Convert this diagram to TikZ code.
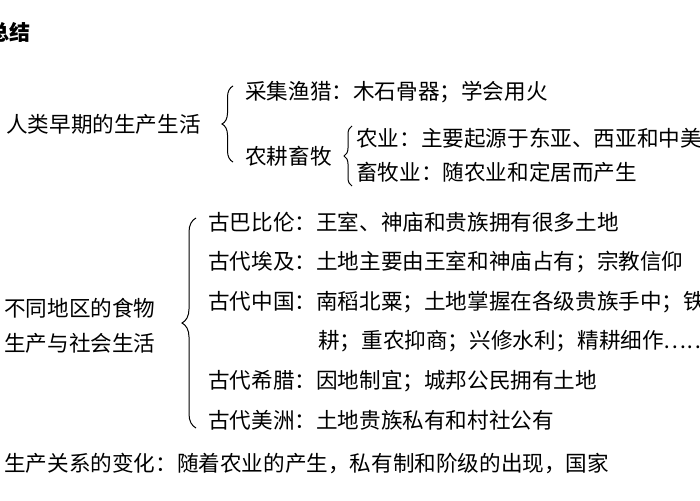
\documentclass[tikz,border=0pt]{standalone}
\usepackage{fontspec}
\setmainfont{Noto Sans CJK SC}
\usetikzlibrary{decorations.pathreplacing}
\begin{document}
\begin{tikzpicture}[x=1pt,y=-1pt,
  t/.style={anchor=west,inner sep=0pt,font=\fontsize{21.6}{24}\selectfont},
  br/.style={decorate,decoration={brace,amplitude=#1,aspect=0.5},line width=1pt}]
\useasboundingbox (0,0) rectangle (700,500);
\begin{scope}
\clip (0,0) rectangle (700,500);
\node[t,font=\fontsize{21}{24}\selectfont\bfseries] (title) at (-12,32) {总结};
\node[t] (a) at (6,124) {人类早期的生产生活};
\node[t] (a1) at (245,92) {采集渔猎：木石骨器；学会用火};
\node[t] (a2) at (245,156) {农耕畜牧};
\node[t] (a21) at (356,138) {农业：主要起源于东亚、西亚和中美洲};
\node[t] (a22) at (356,172) {畜牧业：随农业和定居而产生};
\draw[br=11pt] (233,162) -- (233,86);
\draw[br=8pt] (352,186) -- (352,126);
\node[t] (b) at (4,308) {不同地区的食物};
\node[t] (b0) at (4,343) {生产与社会生活};
\node[t] (b1) at (208,222) {古巴比伦：王室、神庙和贵族拥有很多土地};
\node[t] (b2) at (208,262) {古代埃及：土地主要由王室和神庙占有；宗教信仰};
\node[t] (b3) at (208,302) {古代中国：南稻北粟；土地掌握在各级贵族手中；铁犁牛};
\node[t] (b3b) at (318,341) {耕；重农抑商；兴修水利；精耕细作……};
\node[t] (b4) at (208,381) {古代希腊：因地制宜；城邦公民拥有土地};
\node[t] (b5) at (208,420) {古代美洲：土地贵族私有和村社公有};
\draw[br=14pt] (196,428) -- (196,218);
\node[t] (c) at (4,463) {生产关系的变化：随着农业的产生，私有制和阶级的出现，国家};
\end{scope}
\end{tikzpicture}
\end{document}
